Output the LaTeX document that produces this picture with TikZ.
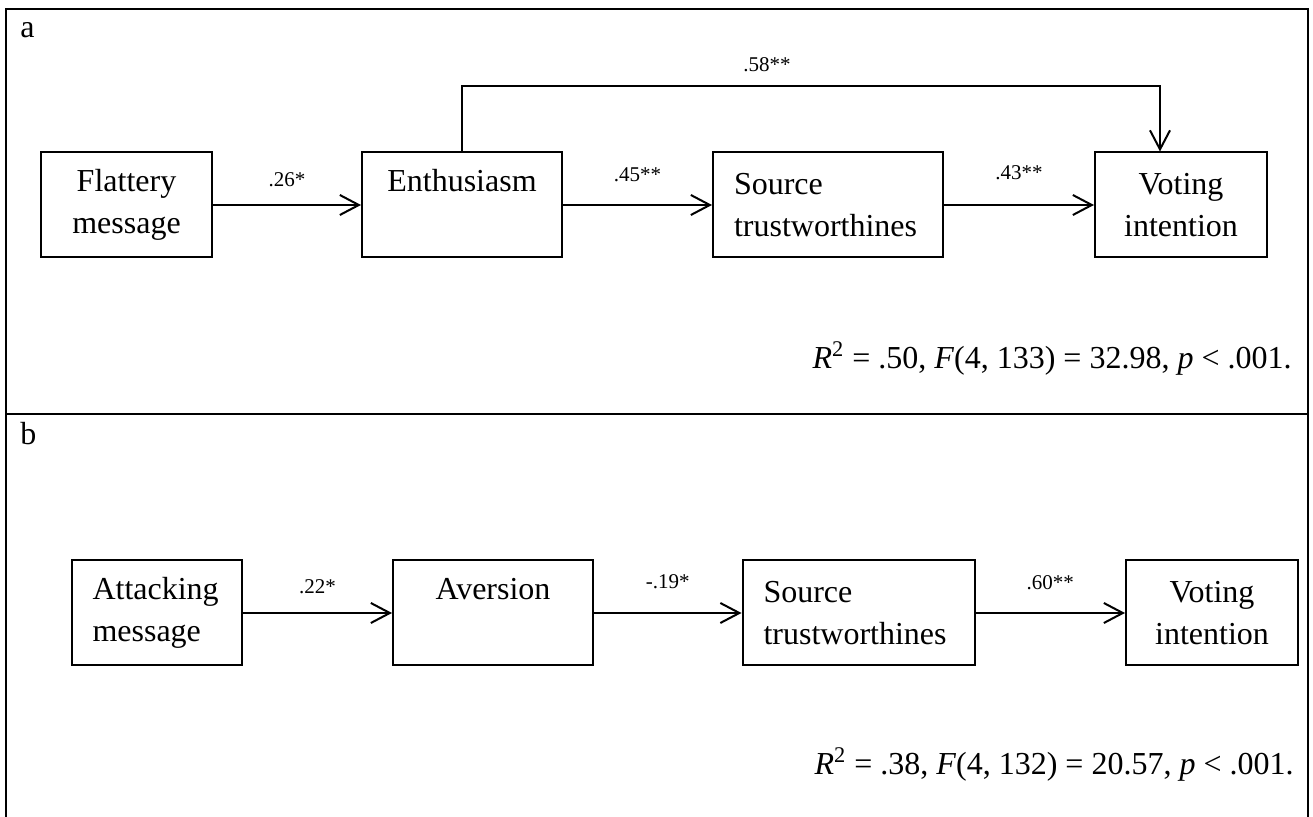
\documentclass[tikz,border=0pt]{standalone}
\usepackage{fontspec}
\setmainfont{Liberation Serif}
\usetikzlibrary{arrows.meta}
\begin{document}
\begin{tikzpicture}[x=0.5pt,y=-0.5pt,
  box/.style={draw, line width=1pt, inner ysep=0pt, minimum height=52.5pt, font=\fontsize{16}{21}\selectfont},
  cbox/.style={box, align=center, inner xsep=0pt},
  lbox/.style={box, align=left, inner xsep=10.5pt},
  arr/.style={line width=1pt, -{Straight Barb[length=9.5pt,width=10pt,line width=1pt]}},
  lbl/.style={font=\fontsize{10.5}{12}\selectfont, inner sep=0pt},
  big/.style={font=\fontsize{16}{21}\selectfont, inner sep=0pt},
  frame/.style={line width=1.3pt}]
\useasboundingbox (0,0) rectangle (1313,817);
% frame
\draw[frame] (6,817) -- (6,9) -- (1308,9) -- (1308,817);
\draw[frame] (6,414) -- (1308,414);
% panel letters
\node[big, anchor=base west] (pa) at (20,38) {a};
\node[big, anchor=base west] (pb) at (20,445) {b};
% panel a
\node[cbox, minimum width=85.5pt] (fm) at (126.5,205) {Flattery\\message};
\node[cbox, minimum width=100pt] (en) at (462,205) {Enthusiasm\\\phantom{g}};
\node[lbox, text width=94pt] (st) at (828,205) {Source\\trustworthines};
\node[cbox, minimum width=86pt] (vi) at (1181,205) {Voting\\intention};
\draw[arr] (fm) -- (en) node[lbl, midway, yshift=12.5pt] (l26) {.26*};
\draw[arr] (en) -- (st) node[lbl, midway, yshift=15pt] (l45) {.45**};
\draw[arr] (st) -- (vi) node[lbl, midway, yshift=16pt] (l43) {.43**};
\draw[arr] (en.north) -- ++(0,-65) coordinate (tl) -| ([xshift=-10.5pt]vi.north);
\node[lbl] (l58) at (767,65) {.58**};
\node[big, anchor=base east] (ra) at (1292,369) {\textit{R}\textsuperscript{2} = .50, \textit{F}(4, 133) = 32.98, \textit{p} < .001.};
% panel b
\node[lbox, text width=64.5pt, inner xsep=10.25pt] (am) at (157,613) {Attacking\\message};
\node[cbox, minimum width=100pt] (av) at (493,613) {Aversion\\\phantom{g}};
\node[lbox, text width=95pt] (sb) at (858.5,613) {Source\\trustworthines};
\node[cbox, minimum width=86pt] (vb) at (1212,613) {Voting\\intention};
\draw[arr] (am) -- (av) node[lbl, midway, yshift=13pt] (l22) {.22*};
\draw[arr] (av) -- (sb) node[lbl, midway, yshift=15.5pt] (l19) {-.19*};
\draw[arr] (sb) -- (vb) node[lbl, midway, yshift=15pt] (l60) {.60**};
\node[big, anchor=base east] (rb) at (1294,775) {\textit{R}\textsuperscript{2} = .38, \textit{F}(4, 132) = 20.57, \textit{p} < .001.};
\end{tikzpicture}
\end{document}
